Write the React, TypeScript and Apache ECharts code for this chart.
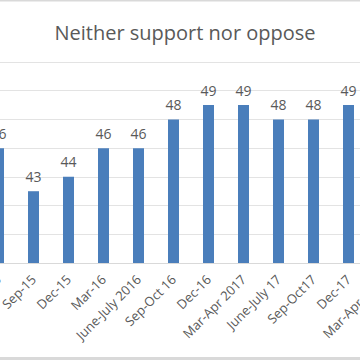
import React, { useEffect, useRef } from "react";
import * as echarts from "echarts";

const titleText = "Neither support nor oppose";
const categories = [
  "Jun-15",
  "Sep-15",
  "Dec-15",
  "Mar-16",
  "June-July 2016",
  "Sep-Oct 16",
  "Dec-16",
  "Mar-Apr 2017",
  "June-July 17",
  "Sep-Oct17",
  "Dec-17",
  "Mar-Apr 2018",
];
const values: (number | null)[] = [46, 43, 44, 46, 46, 48, 49, 49, 48, 48, 49, null];
const yMin = 38;
const yMax = 52;
const yStep = 2;

const OFFSET = 60;
const W = 480;
const H = 360;

export default function App() {
  const ref = useRef<HTMLDivElement>(null);
  useEffect(() => {
    if (!ref.current) return;
    const chart = echarts.init(ref.current, undefined, { renderer: "svg" });
    chart.setOption({
      animation: false,
      backgroundColor: "#ffffff",
      title: {
        text: titleText,
        left: OFFSET + 180,
        textAlign: "center",
        top: 17,
        textStyle: {
          fontFamily: "Open Sans",
          fontSize: 20,
          fontWeight: "normal",
          color: "#595959",
        },
      },
      graphic: [
        { type: "rect", shape: { x: 0, y: 0, width: W, height: 1.5 }, style: { fill: "#d9d9d9" } },
        { type: "rect", shape: { x: 0, y: 357, width: W, height: 3 }, style: { fill: "#d9d9d9" } },
      ],
      grid: { left: 41, right: 19, top: 62, bottom: 97 },
      xAxis: {
        type: "category",
        data: categories,
        axisLine: { lineStyle: { color: "#d9d9d9", width: 1 } },
        axisTick: { show: false },
        axisLabel: {
          interval: 0,
          rotate: 45,
          margin: 14,
          fontFamily: "Open Sans",
          fontSize: 13,
          color: "#595959",
        },
      },
      yAxis: {
        type: "value",
        min: yMin,
        max: yMax,
        interval: yStep,
        axisLabel: { show: false },
        axisLine: { show: false },
        axisTick: { show: false },
        splitLine: { lineStyle: { color: "#e3e3e3", width: 1 } },
      },
      series: [
        {
          type: "bar",
          data: values,
          barWidth: 11,
          itemStyle: { color: "#4a7ebb" },
          label: {
            show: true,
            position: "top",
            distance: 8,
            fontFamily: "Open Sans",
            fontSize: 14,
            color: "#595959",
          },
        },
      ],
    });
    return () => chart.dispose();
  }, []);
  return (
    <div
      ref={ref}
      style={{ position: "fixed", top: 0, left: -OFFSET, width: W, height: H }}
    />
  );
}
